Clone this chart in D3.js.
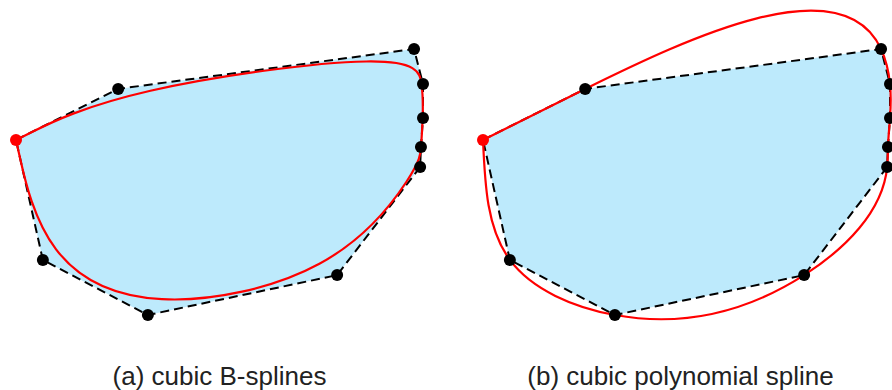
<!DOCTYPE html>
<html><head><meta charset="utf-8">
<script src="https://cdn.jsdelivr.net/npm/d3@7/dist/d3.min.js"></script>
<style>body{margin:0;background:#fff}svg{display:block}</style>
</head><body>
<svg id="c" width="892" height="390"></svg>
<script>
// control polygon (data units, y upward); first point is the start/end point (red)
const xs = [0, 25.1, 97.8, 100, 100, 99.5, 99.3, 78.9, 32.4, 6.6];
const ys = [65.8, 85.0, 100, 86.8, 74.1, 63.2, 55.6, 15.0, 0, 20.7];
const panels = ["(a) cubic B-splines", "(b) cubic polynomial spline"];

const svg = d3.select("#c");
const pts = xs.map((x, i) => ({x, y: ys[i]}));
const closed = pts.concat([pts[0]]);
const y = d3.scaleLinear().domain([0, 100]).range([315, 49]);

function solve(A, b) {
  const n = b.length;
  A = A.map(r => r.slice()); b = b.slice();
  for (let i = 0; i < n; i++) {
    let p = i;
    for (let r = i + 1; r < n; r++) if (Math.abs(A[r][i]) > Math.abs(A[p][i])) p = r;
    [A[i], A[p]] = [A[p], A[i]]; [b[i], b[p]] = [b[p], b[i]];
    for (let r = i + 1; r < n; r++) {
      const f = A[r][i] / A[i][i];
      for (let c = i; c < n; c++) A[r][c] -= f * A[i][c];
      b[r] -= f * b[i];
    }
  }
  const x = new Array(n).fill(0);
  for (let i = n - 1; i >= 0; i--) {
    let s = b[i];
    for (let c = i + 1; c < n; c++) s -= A[i][c] * x[c];
    x[i] = s / A[i][i];
  }
  return x;
}
// natural cubic spline through Q (pixel points) with chord-length parameterisation
function chordSplinePath(Q) {
  const m = Q.length, nseg = m - 1;
  const h = [];
  for (let i = 0; i < nseg; i++) h.push(Math.hypot(Q[i + 1][0] - Q[i][0], Q[i + 1][1] - Q[i][1]));
  const Ms = [0, 1].map(dim => {
    const A = Array.from({length: m}, () => new Array(m).fill(0));
    const rhs = new Array(m).fill(0);
    for (let i = 0; i < m; i++) {
      if (i === 0 || i === m - 1) { A[i][i] = 1; continue; }
      const hp = h[i - 1], hn = h[i];
      A[i][i - 1] = hp; A[i][i] = 2 * (hp + hn); A[i][i + 1] = hn;
      rhs[i] = 6 * ((Q[i + 1][dim] - Q[i][dim]) / hn - (Q[i][dim] - Q[i - 1][dim]) / hp);
    }
    return solve(A, rhs);
  });
  const p = d3.path();
  p.moveTo(Q[0][0], Q[0][1]);
  for (let i = 0; i < nseg; i++) {
    const hi = h[i];
    const c = [0, 1].map(d => {
      const y0 = Q[i][d], y1 = Q[i + 1][d], M0 = Ms[d][i], M1 = Ms[d][i + 1];
      const d0 = (y1 - y0) / hi - hi * (2 * M0 + M1) / 6;
      const d1 = (y1 - y0) / hi + hi * (M0 + 2 * M1) / 6;
      return [y0 + hi / 3 * d0, y1 - hi / 3 * d1];
    });
    p.bezierCurveTo(c[0][0], c[1][0], c[0][1], c[1][1], Q[i + 1][0], Q[i + 1][1]);
  }
  return p.toString();
}

panels.forEach((label, k) => {
  const off = k * 467;
  const x = d3.scaleLinear().domain([0, 100]).range([16 + off, 423 + off]);
  const line = d3.line().x(d => x(d.x)).y(d => y(d.y));
  const g = svg.append("g");
  g.append("path")
    .attr("d", line(closed) + "Z")
    .attr("fill", "#bdeafc").attr("stroke", "none");
  g.append("path")
    .attr("d", line(closed))
    .attr("fill", "none").attr("stroke", "#000").attr("stroke-width", 2)
    .attr("stroke-dasharray", "9,5");
  const curvePath = k === 0
    ? line.curve(d3.curveBasis)(closed)
    : chordSplinePath(closed.map(d => [x(d.x), y(d.y)]));
  g.append("path")
    .attr("d", curvePath)
    .attr("fill", "none").attr("stroke", "#f00").attr("stroke-width", 2.2);
  g.selectAll("circle").data(pts).join("circle")
    .attr("cx", d => x(d.x)).attr("cy", d => y(d.y)).attr("r", 6)
    .attr("fill", (d, i) => i === 0 ? "#f00" : "#000");
  g.append("text")
    .attr("x", (x(0) + x(100)) / 2 - 6 * k).attr("y", 385)
    .attr("text-anchor", "middle")
    .attr("font-family", "Liberation Sans, Arial, sans-serif")
    .attr("font-size", 26).attr("fill", "#222")
    .text(label);
});
</script>
</body></html>
